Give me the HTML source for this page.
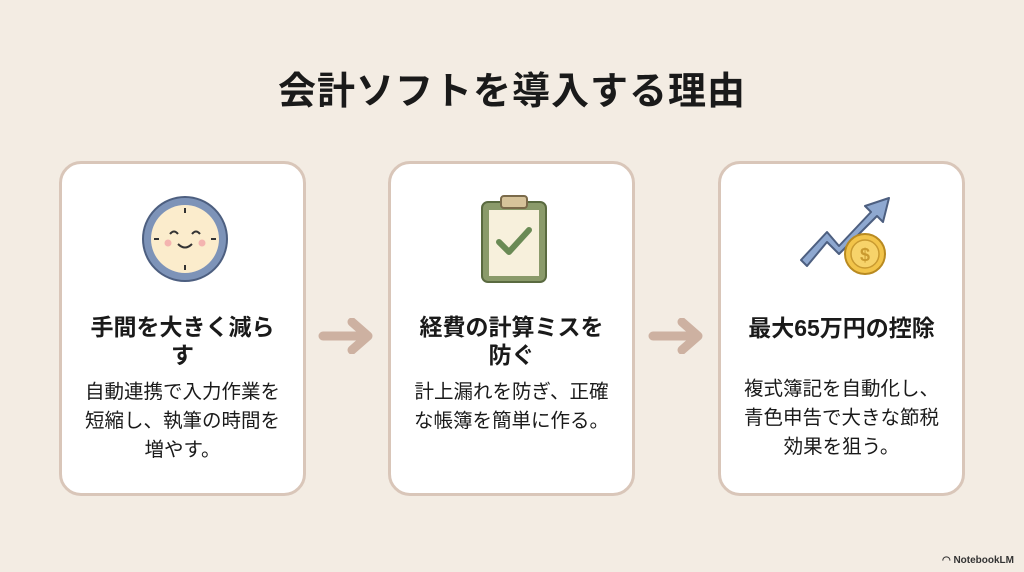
<!DOCTYPE html>
<html><head><meta charset="utf-8"><style>
body{margin:0;width:1024px;height:572px;background:#f3ece3;font-family:"Liberation Sans","Noto Sans CJK JP",sans-serif;position:relative;overflow:hidden;color:#1a1a1a}
.t{position:absolute;left:0;width:1024px;top:60px;text-align:center;font-size:38px;font-weight:bold;letter-spacing:1px}
.c{position:absolute;top:161px;width:241px;height:329px;background:#fff;border:3px solid #d9c6b9;border-radius:22px}
.h{position:absolute;left:0;width:100%;text-align:center;font-size:23px;font-weight:bold;line-height:28px}
.b{position:absolute;left:0;width:100%;text-align:center;font-size:19.5px;line-height:29px}
.a{position:absolute;top:318px}
.ic{position:absolute}
</style></head><body>
<div class="t">会計ソフトを導入する理由</div>

<div class="c" style="left:59px">
<svg class="ic" style="left:78px;top:30px" width="90" height="90" viewBox="0 0 90 90">
<circle cx="45" cy="45" r="42" fill="#7d93b8" stroke="#4d5f80" stroke-width="2"/>
<circle cx="45" cy="45" r="34" fill="#fbeccc"/>
<g stroke="#333" stroke-width="2"><line x1="45" y1="14" x2="45" y2="19"/><line x1="45" y1="71" x2="45" y2="76"/><line x1="14" y1="45" x2="19" y2="45"/><line x1="71" y1="45" x2="76" y2="45"/></g>
<path d="M30 40q4-5 8 0M52 40q4-5 8 0M38 50q7 7 14 0" fill="none" stroke="#333" stroke-width="2"/>
<circle cx="28" cy="49" r="3.5" fill="#f4b4b0"/><circle cx="62" cy="49" r="3.5" fill="#f4b4b0"/>
</svg>
<div class="h" style="top:149px">手間を大きく減ら<br>す</div>
<div class="b" style="top:214px">自動連携で入力作業を<br>短縮し、執筆の時間を<br>増やす。</div>
</div>

<svg class="a" style="left:318px" width="58" height="36" viewBox="0 0 58 36"><path d="M5 18H50M34 4L50 18L34 32" fill="none" stroke="#cdb1a1" stroke-width="9" stroke-linecap="round" stroke-linejoin="round"/></svg>

<div class="c" style="left:388px">
<svg class="ic" style="left:88px;top:30px" width="70" height="90" viewBox="0 0 70 90">
<rect x="3" y="8" width="64" height="80" rx="6" fill="#8a9a6a" stroke="#5a6a40" stroke-width="2"/>
<rect x="10" y="16" width="50" height="66" fill="#f7f0dc"/>
<rect x="22" y="2" width="26" height="12" rx="3" fill="#d6c39a" stroke="#7a6a4a" stroke-width="2"/>
<path d="M20 48l10 10 20-22" fill="none" stroke="#6a8a55" stroke-width="6" stroke-linecap="round" stroke-linejoin="round"/>
</svg>
<div class="h" style="top:149px">経費の計算ミスを<br>防ぐ</div>
<div class="b" style="top:214px">計上漏れを防ぎ、正確<br>な帳簿を簡単に作る。</div>
</div>

<svg class="a" style="left:648px" width="58" height="36" viewBox="0 0 58 36"><path d="M5 18H50M34 4L50 18L34 32" fill="none" stroke="#cdb1a1" stroke-width="9" stroke-linecap="round" stroke-linejoin="round"/></svg>

<div class="c" style="left:718px">
<svg class="ic" style="left:76px;top:28px" width="100" height="92" viewBox="0 0 100 92">
<path d="M4 68L30 40L42 54L74 20L68 14L92 6L86 30L80 24L42 62L30 50L10 74Z" fill="#8ea8d0" stroke="#4d5f80" stroke-width="2" stroke-linejoin="round"/>
<circle cx="68" cy="62" r="20" fill="#f2c44a" stroke="#b98a20" stroke-width="2"/>
<circle cx="68" cy="62" r="14" fill="#f7d36a" stroke="#c99a30" stroke-width="1.5"/>
<text x="68" y="69" text-anchor="middle" font-size="18" font-weight="bold" fill="#c99a30" font-family="Liberation Sans,sans-serif">$</text>
</svg>
<div class="h" style="top:150px">最大65万円の控除</div>
<div class="b" style="top:211px">複式簿記を自動化し、<br>青色申告で大きな節税<br>効果を狙う。</div>
</div>

<div style="position:absolute;right:10px;bottom:6px;font-size:10px;font-weight:bold;color:#333">◠ NotebookLM</div>
</body></html>
